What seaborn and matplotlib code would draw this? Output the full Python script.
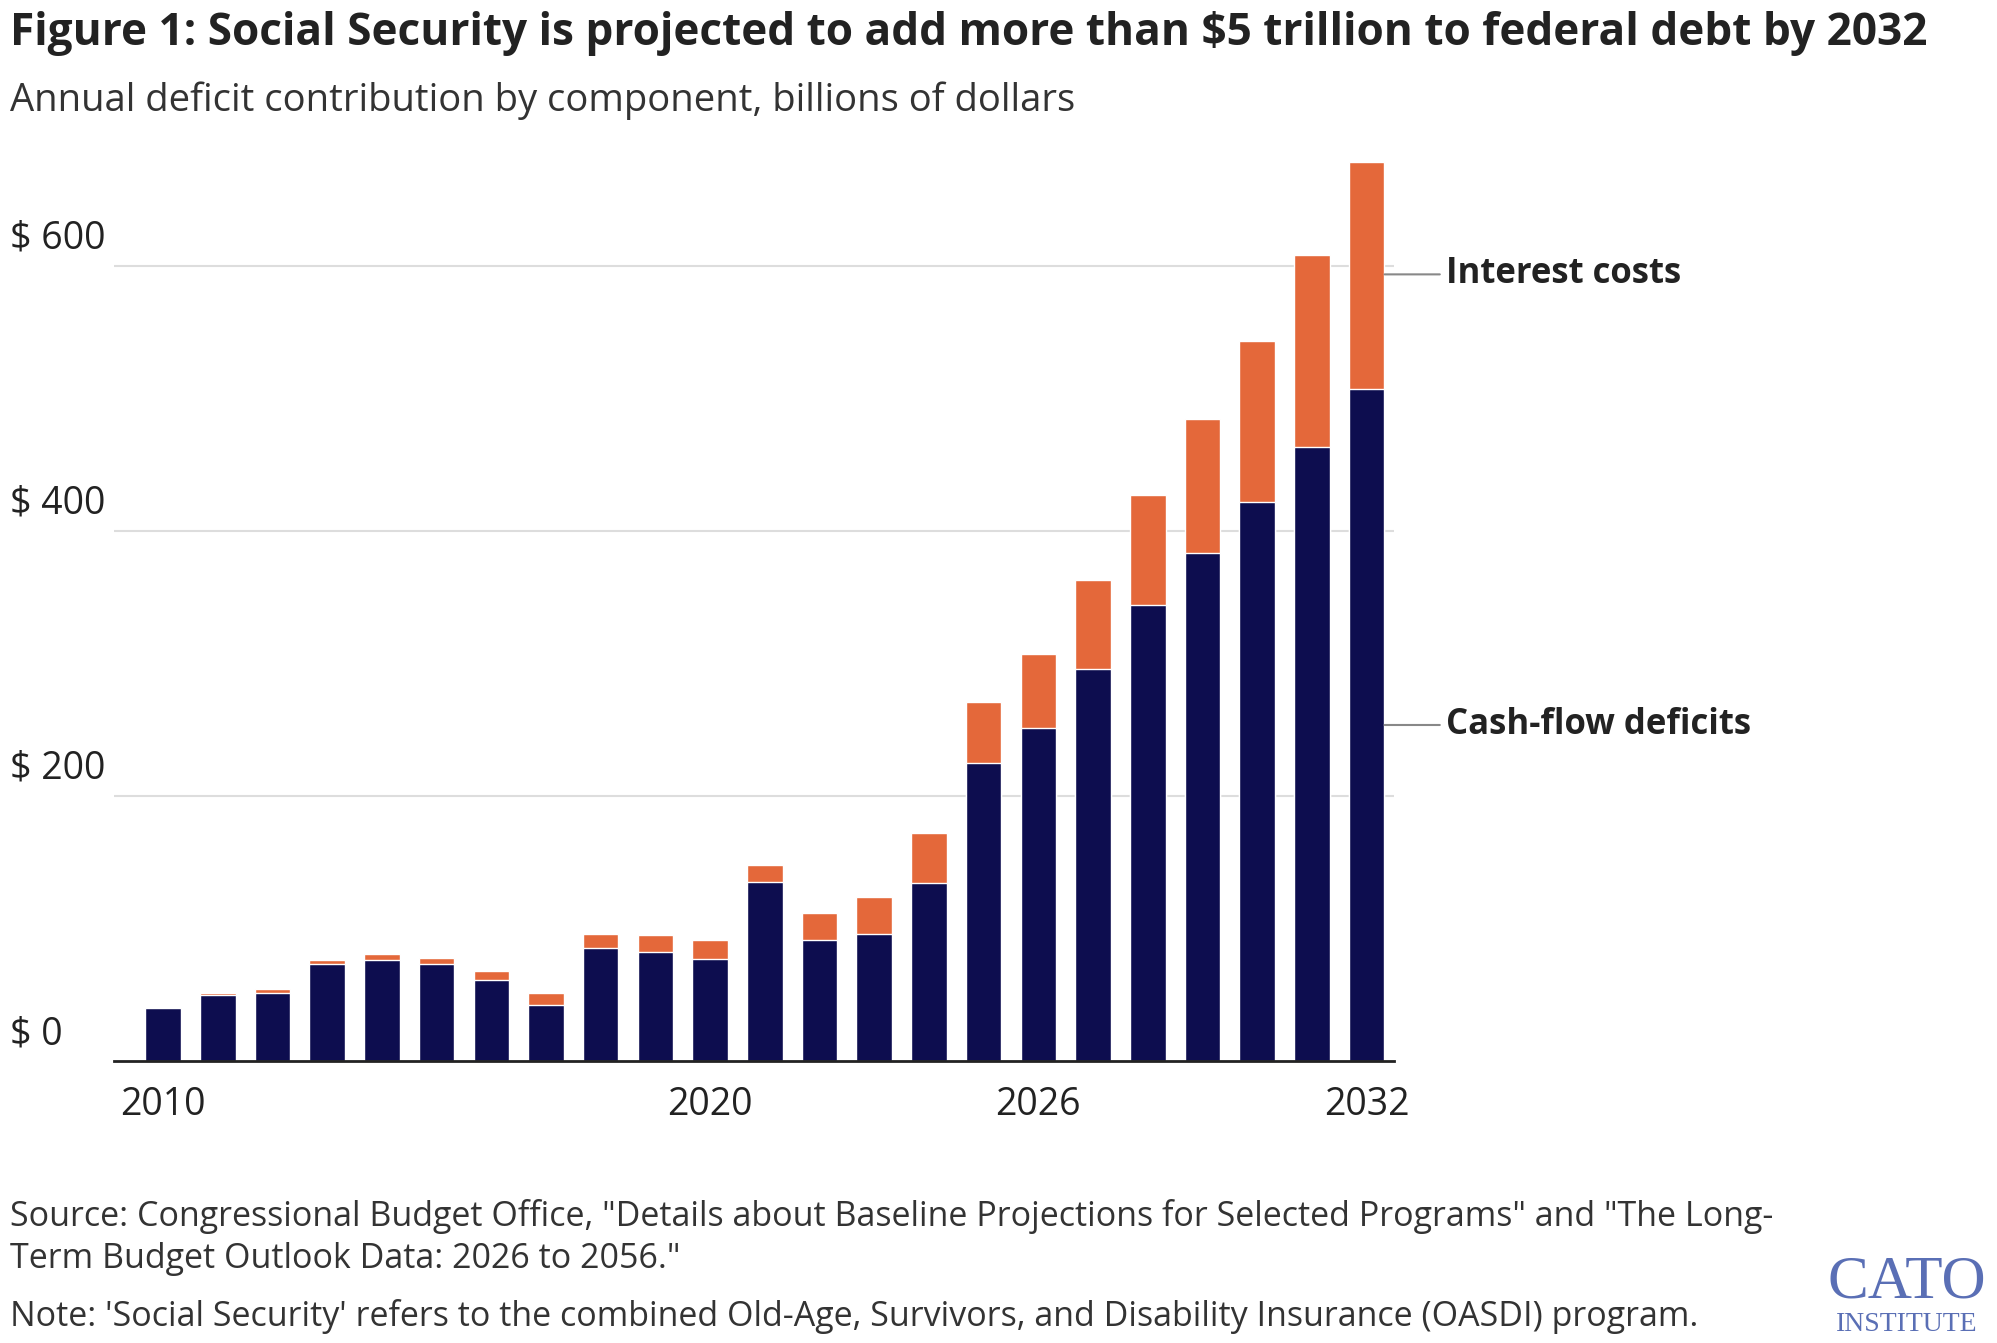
import matplotlib
matplotlib.use("Agg")
import matplotlib.pyplot as plt
import matplotlib.transforms as mtransforms
import pandas as pd
import seaborn as sns

YEARS = list(range(2010, 2033))
CASH_FLOW = [40, 50, 51, 73, 76, 73, 61, 42, 85, 82, 77, 135, 91, 96, 134,
             225, 251, 296, 344, 383, 422, 463, 507]
TOTAL = [40, 51, 54, 76, 81, 78, 68, 51, 96, 95, 91, 148, 112, 124, 172,
         271, 307, 363, 427, 484, 543, 608, 678]
Y_TICKS = [0, 200, 400, 600]
X_TICK_YEARS = [2010, 2020, 2026, 2032]

NAVY = "#0d0d4f"
ORANGE = "#e4683a"

sns.set_theme(style="white")
plt.rcParams["font.family"] = ["Open Sans", "DejaVu Sans"]

df = pd.DataFrame({"year": YEARS, "cash": CASH_FLOW, "total": TOTAL})

fig = plt.figure(figsize=(19.97, 13.43), dpi=100)
ax = fig.add_axes([0.057, 0.21, 0.641, 0.676])

sns.barplot(data=df, x="year", y="total", color=ORANGE, width=0.65,
            saturation=1, ax=ax)
sns.barplot(data=df, x="year", y="cash", color=NAVY, width=0.65,
            saturation=1, ax=ax)

ax.set_ylim(0, 685)
ax.set_xlim(-0.9, len(YEARS) - 0.5)
ax.set_xlabel("")
ax.set_ylabel("")
ax.set_yticks(Y_TICKS)
ax.set_yticklabels([])
ax.tick_params(axis="y", length=0)
for v in Y_TICKS[1:]:
    ax.axhline(v, color="#dddddd", lw=1.5, zorder=0)
trans = mtransforms.blended_transform_factory(fig.transFigure, ax.transData)
for v in Y_TICKS:
    ax.text(0.005, v + 6, f"$ {v}", transform=trans, fontsize=27,
            color="#222222", va="bottom", ha="left")

ax.set_xticks([YEARS.index(y) for y in X_TICK_YEARS])
ax.set_xticklabels([str(y) for y in X_TICK_YEARS], fontsize=27, color="#222222")
ax.tick_params(axis="x", length=0, pad=18)
for s in ["top", "right", "left"]:
    ax.spines[s].set_visible(False)
ax.spines["bottom"].set_color("#222222")
ax.spines["bottom"].set_linewidth(2)

# series labels
last = len(YEARS) - 1
for val, label in [((CASH_FLOW[-1] + TOTAL[-1]) / 2 + 1, "Interest costs"),
                   (CASH_FLOW[-1] / 2, "Cash-flow deficits")]:
    ax.annotate(label, xy=(last + 0.33, val), xytext=(last + 1.45, val),
                fontsize=25, fontweight="bold", color="#222222", va="center",
                annotation_clip=False,
                arrowprops=dict(arrowstyle="-", color="#888888", lw=1.5,
                                shrinkA=2, shrinkB=0))

fig.text(0.005, 0.975, "Figure 1: Social Security is projected to add more than $5 trillion to federal debt by 2032",
         fontsize=31.8, fontweight="bold", color="#222222", va="center")
fig.text(0.005, 0.925, "Annual deficit contribution by component, billions of dollars",
         fontsize=27.5, color="#333333", va="center")
fig.text(0.005, 0.05,
         "Source: Congressional Budget Office, \"Details about Baseline Projections for Selected Programs\" and \"The Long-\n"
         "Term Budget Outlook Data: 2026 to 2056.\"",
         fontsize=24.5, color="#333333", va="bottom", linespacing=1.3)
fig.text(0.005, 0.02,
         "Note: 'Social Security' refers to the combined Old-Age, Survivors, and Disability Insurance (OASDI) program.",
         fontsize=24.5, color="#333333", va="center")
fig.text(0.955, 0.045, "CATO", fontsize=44, family="Liberation Serif",
         color="#5a6fb5", ha="center", va="center")
fig.text(0.955, 0.014, "INSTITUTE", fontsize=20, family="Liberation Serif",
         color="#5a6fb5", ha="center", va="center")

fig.savefig("out.png", dpi=100)
